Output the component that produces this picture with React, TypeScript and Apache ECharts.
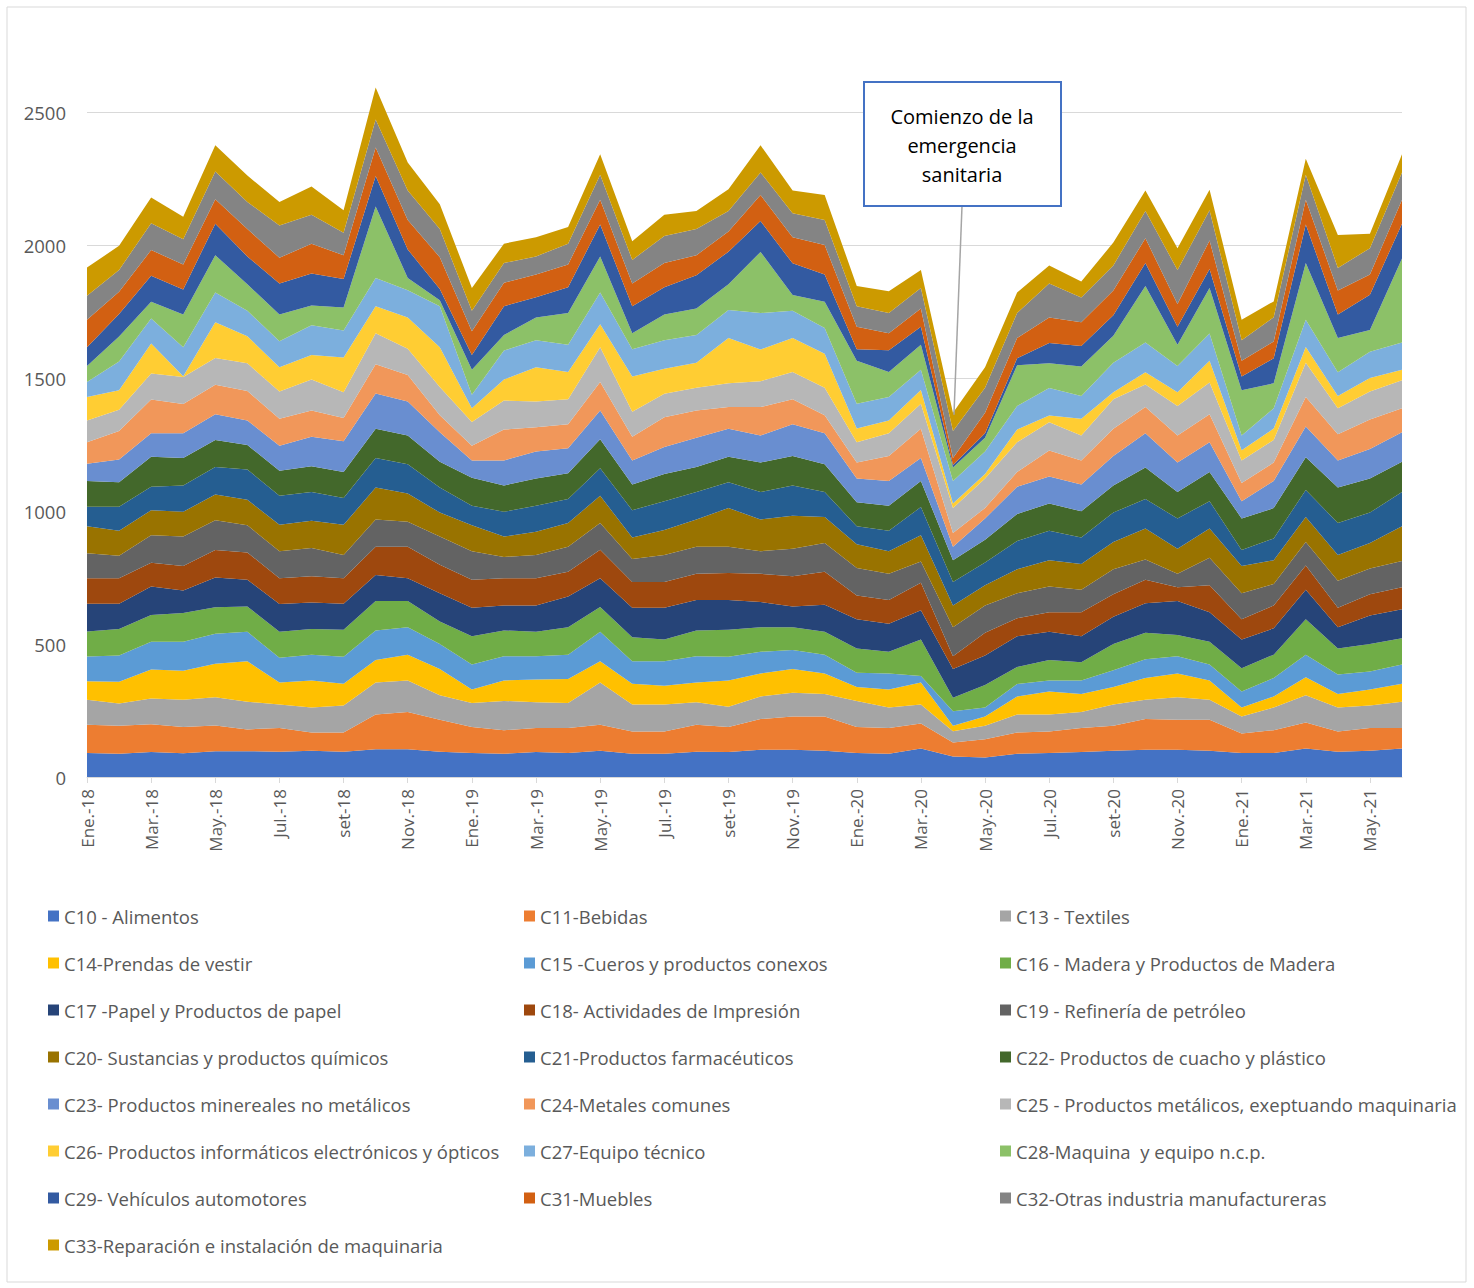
import React, { useEffect, useRef } from "react";
import * as echarts from "echarts";

const months = [
  "Ene.-18","Feb.-18","Mar.-18","Abr.-18","May.-18","Jun.-18","Jul.-18","Ago.-18","set-18","Oct.-18","Nov.-18","Dic.-18",
  "Ene.-19","Feb.-19","Mar.-19","Abr.-19","May.-19","Jun.-19","Jul.-19","Ago.-19","set-19","Oct.-19","Nov.-19","Dic.-19",
  "Ene.-20","Feb.-20","Mar.-20","Abr.-20","May.-20","Jun.-20","Jul.-20","Ago.-20","set-20","Oct.-20","Nov.-20","Dic.-20",
  "Ene.-21","Feb.-21","Mar.-21","Abr.-21","May.-21","Jun.-21",
];

const yTicks = [0, 500, 1000, 1500, 2000, 2500];

const c10 = [90,87,94,89,97,97,95,99,95,104,104,95,90,87,94,90,99,87,87,95,94,102,102,99,90,87,107,77,73,87,90,94,99,102,102,99,90,90,107,95,99,107];
const c11 = [106,106,104,99,97,82,89,68,72,131,140,120,98,89,90,94,97,84,84,101,94,116,125,128,98,97,94,53,69,80,81,90,94,116,113,116,74,86,98,76,85,77];
const c13 = [94,83,97,102,106,104,89,94,102,120,119,92,90,110,97,94,159,102,102,85,76,85,90,85,98,77,72,42,51,68,64,60,80,72,85,75,63,85,102,90,85,99];
const c14 = [70,82,109,109,126,152,82,102,82,85,97,99,51,77,86,90,80,78,70,74,99,86,89,77,52,68,82,21,34,68,86,68,65,82,89,73,34,42,68,51,60,68];
const c15 = [93,99,104,109,113,111,93,97,101,111,103,94,94,91,87,92,111,84,92,99,89,82,71,71,54,60,25,54,34,47,42,51,63,71,65,60,60,69,85,73,68,72];
const c16 = [94,99,101,109,99,95,98,96,102,111,99,85,106,97,92,103,93,90,82,97,102,92,86,86,91,82,137,51,85,64,77,68,99,99,80,85,88,88,133,98,103,99];
const c17 = [104,95,107,84,112,101,104,100,97,97,85,106,107,94,99,116,108,111,119,114,111,95,78,102,110,105,110,108,111,115,106,98,102,111,128,111,108,99,111,80,107,109];
const c18 = [96,96,89,92,103,102,97,99,96,107,119,107,106,102,102,93,107,97,97,99,102,106,114,124,89,89,103,48,85,68,73,90,85,89,51,102,76,86,91,73,80,82];
const c19 = [94,85,104,111,112,102,102,106,88,102,94,106,107,80,88,94,101,87,102,102,99,85,103,108,104,99,80,109,103,94,97,85,94,76,51,103,98,81,88,102,97,99];
const c20 = [102,94,94,93,97,96,99,102,113,120,106,90,97,77,87,89,102,80,94,102,145,119,124,97,89,85,99,82,76,90,99,97,102,116,94,110,102,89,94,97,96,131];
const c21 = [73,90,88,99,103,114,109,108,101,111,110,94,74,93,98,90,104,103,108,103,97,103,114,94,68,77,106,88,85,106,111,99,111,111,114,103,60,82,102,120,114,128];
const c22 = [97,92,113,103,102,92,94,97,98,110,108,97,105,99,102,97,109,97,102,94,96,111,111,105,90,94,98,82,86,102,102,99,102,119,99,110,119,114,123,133,128,114];
const c23 = [65,86,88,93,97,92,94,111,115,133,128,111,65,94,102,94,108,90,102,110,105,102,119,116,89,93,86,51,80,102,102,101,111,128,111,111,65,102,116,102,111,111];
const c24 = [80,107,127,110,111,111,102,99,88,110,99,64,55,116,91,90,107,89,111,103,82,107,94,68,60,94,110,51,39,56,97,90,102,99,102,106,68,69,111,99,111,90];
const c25 = [82,80,98,102,100,104,102,116,96,116,99,106,90,109,97,94,131,94,89,85,89,97,103,103,76,85,94,94,111,111,107,94,111,85,111,119,85,85,128,97,105,106];
const c26 = [89,73,113,3,135,102,91,92,131,102,117,150,51,79,128,103,86,133,94,94,170,119,127,128,52,48,52,17,17,48,25,63,26,46,51,82,38,43,60,46,51,39];
const c27 = [56,108,94,109,111,96,98,112,102,106,103,154,51,109,102,102,119,102,107,105,106,137,103,97,93,89,76,85,85,89,103,85,111,111,99,102,56,76,102,90,99,102];
const c28 = [60,94,63,123,140,99,101,75,86,269,46,22,94,59,85,119,136,60,97,99,96,230,59,99,162,94,94,51,51,153,93,111,102,213,80,171,170,94,213,128,81,316];
const c29 = [71,85,97,94,119,105,116,120,107,114,107,43,55,108,77,97,120,102,102,125,123,116,119,102,43,81,68,9,17,26,77,77,77,86,68,72,52,94,145,89,133,131];
const c31 = [103,83,97,94,92,103,97,112,89,108,111,119,90,88,85,86,93,85,91,75,76,98,98,111,85,64,68,26,77,76,95,90,93,93,85,107,59,63,93,90,76,90];
const c32 = [90,82,101,95,104,102,121,109,85,105,111,106,77,74,68,78,94,89,102,99,77,85,90,94,77,76,77,102,94,94,128,93,94,103,128,114,77,91,94,85,99,103];
const c33 = [106,91,97,84,99,99,89,106,85,120,105,93,85,73,72,63,77,70,80,68,82,102,86,94,76,82,68,68,77,77,68,60,86,77,82,77,77,60,60,124,54,68];

const seriesNames = [
  "C10 - Alimentos",
  "C11-Bebidas",
  "C13 - Textiles",
  "C14-Prendas de vestir",
  "C15 -Cueros y productos conexos",
  "C16 - Madera y Productos de Madera",
  "C17 -Papel y Productos de papel",
  "C18- Actividades de Impresión",
  "C19 - Refinería de petróleo",
  "C20- Sustancias y productos químicos",
  "C21-Productos farmacéuticos",
  "C22- Productos de cuacho y plástico",
  "C23- Productos minereales no metálicos",
  "C24-Metales comunes",
  "C25 - Productos metálicos, exeptuando maquinaria",
  "C26- Productos informáticos electrónicos y ópticos",
  "C27-Equipo técnico",
  "C28-Maquina  y equipo n.c.p.",
  "C29- Vehículos automotores",
  "C31-Muebles",
  "C32-Otras industria manufactureras",
  "C33-Reparación e instalación de maquinaria",
];

const seriesValues = [c10, c11, c13, c14, c15, c16, c17, c18, c19, c20, c21, c22, c23, c24, c25, c26, c27, c28, c29, c31, c32, c33];

const seriesColors = [
  "#4472C4", "#ED7D31", "#A5A5A5", "#FFC000", "#5B9BD5", "#70AD47",
  "#264478", "#9E480E", "#636363", "#997300", "#255E91", "#43682B",
  "#698ED0", "#F1975A", "#B7B7B7", "#FFCD33", "#7CAFDD", "#8CC168",
  "#335AA1", "#D26012", "#848484", "#CC9A00",
];

const annotationText = "Comienzo de la\nemergencia\nsanitaria";
const annotationMonth = "Abr.-20";

const FONT = "'Open Sans', Lato, sans-serif";

export default function App() {
  const ref = useRef<HTMLDivElement>(null);

  useEffect(() => {
    if (!ref.current) return;
    const chart = echarts.init(ref.current, undefined, { renderer: "svg" });

    const legendCol = (col: number) => seriesNames.filter((_, i) => i % 3 === col);

    const legendBase = {
      orient: "vertical" as const,
      top: 901,
      itemWidth: 11,
      itemHeight: 11,
      itemGap: 27,
      icon: "rect",
      textStyle: { fontSize: 18.5, color: "#595959", fontFamily: FONT, lineHeight: 20 },
    };

    chart.setOption({
      animation: false,
      textStyle: { fontFamily: FONT },
      grid: { left: 87, right: 72, top: 112, bottom: 511, containLabel: false },
      xAxis: {
        type: "category",
        data: months,
        boundaryGap: false,
        axisLine: { lineStyle: { color: "#D9D9D9", width: 1 } },
        axisTick: { show: true, interval: 1, length: 6, lineStyle: { color: "#D9D9D9" } },
        axisLabel: { interval: 1, rotate: 90, fontSize: 17, color: "#595959", margin: 12, fontFamily: FONT },
        splitLine: { show: false },
      },
      yAxis: {
        type: "value",
        min: yTicks[0],
        max: yTicks[yTicks.length - 1],
        interval: yTicks[1] - yTicks[0],
        axisLine: { show: false },
        axisTick: { show: false },
        axisLabel: {
          fontSize: 18.5,
          color: "#595959",
          margin: 21,
          fontFamily: FONT,
          formatter: (v: number) => String(v),
        },
        splitLine: { lineStyle: { color: "#D9D9D9", width: 1 } },
      },
      legend: [0, 1, 2].map((c) => ({
        ...legendBase,
        left: 43 + c * 476,
        data: legendCol(c),
      })),
      series: seriesNames.map((name, i) => ({
        name,
        type: "line",
        stack: "total",
        data: seriesValues[i],
        showSymbol: false,
        symbol: "none",
        clip: false,
        lineStyle: { width: 0 },
        areaStyle: { color: seriesColors[i], opacity: 1 },
        itemStyle: { color: seriesColors[i] },
        emphasis: { disabled: true },
      })),
    });

    const idx = months.indexOf(annotationMonth);
    const total = seriesValues.reduce((s, arr) => s + arr[idx], 0);
    const pt = chart.convertToPixel({ gridIndex: 0 }, [idx, total]) as number[];

    chart.setOption({
      graphic: [
        {
          type: "rect",
          shape: { x: 7, y: 7, width: 1459, height: 1275 },
          style: { fill: "none", stroke: "#D9D9D9", lineWidth: 1 },
          silent: true,
          z: 0,
        },
        {
          type: "line",
          shape: { x1: 962, y1: 206, x2: pt[0] + 1, y2: pt[1] + 2 },
          style: { stroke: "#A5A5A5", lineWidth: 1.5 },
          z: 100,
        },
        {
          type: "rect",
          shape: { x: 864, y: 82, width: 197, height: 124 },
          style: { fill: "#FFFFFF", stroke: "#4472C4", lineWidth: 2 },
          z: 100,
        },
        {
          type: "text",
          x: 962,
          y: 145,
          style: {
            text: annotationText,
            align: "center",
            verticalAlign: "middle",
            fontSize: 20,
            lineHeight: 29,
            fill: "#000000",
            fontFamily: FONT,
          },
          z: 101,
        },
      ],
    });

    return () => chart.dispose();
  }, []);

  return (
    <div
      ref={ref}
      style={{ position: "absolute", left: 0, top: 0, width: 1474, height: 1288, background: "#fff" }}
    />
  );
}
